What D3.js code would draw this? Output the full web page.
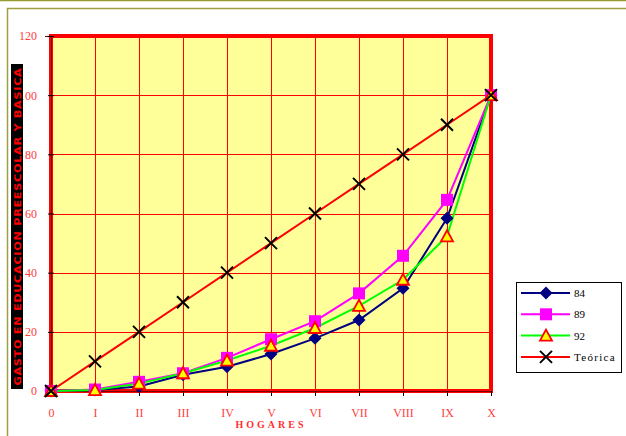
<!DOCTYPE html>
<html>
<head>
<meta charset="utf-8">
<script src="https://cdn.jsdelivr.net/npm/d3@7"></script>
<style>
  html, body { margin: 0; padding: 0; background: #fff; }
  svg { display: block; }
</style>
</head>
<body>
<svg id="chart" width="626" height="436"></svg>
<script>
// Household deciles and spending shares
const categories = ["0", "I", "II", "III", "IV", "V", "VI", "VII", "VIII", "IX", "X"];
const yTicks = [0, 20, 40, 60, 80, 100, 120];
const s84 = [0, 0.3, 1.5, 5.5, 8.2, 12.5, 17.8, 24, 34.7, 58.4, 100];
const s89 = [0, 0.5, 3.1, 6, 11.2, 17.5, 23.6, 33, 45.7, 64.6, 100];
const s92 = [0, 0.3, 2.5, 6, 10.3, 15.3, 21.3, 28.8, 37.6, 52.3, 100];
const teorica = [0, 10, 20, 30, 40, 50, 60, 70, 80, 90, 100];

const seriesList = [
  { name: "84", values: s84, line: "#000080", marker: "diamond" },
  { name: "89", values: s89, line: "#ff00ff", marker: "square" },
  { name: "92", values: s92, line: "#00ff00", marker: "triangle" },
  { name: "Teórica", values: teorica, line: "#ff0000", marker: "cross" }
];

const serif = "'Liberation Serif', 'Times New Roman', 'DejaVu Serif', serif";
const svg = d3.select("#chart");
const plotL = 51, plotR = 491, plotT = 36, plotB = 391;

const x = d3.scalePoint().domain(categories).range([plotL, plotR]);
const y = d3.scaleLinear().domain([0, 120]).range([plotB, plotT]);

// Page frame
svg.append("line").attr("x1", 0).attr("x2", 626).attr("y1", 0.5).attr("y2", 0.5)
  .attr("stroke", "#999933").attr("stroke-width", 1.5);
svg.append("path").attr("d", "M7.5,436 V8.5 H626")
  .attr("fill", "none").attr("stroke", "#a0a040").attr("stroke-width", 1.5);

// Plot background
svg.append("rect").attr("x", plotL).attr("y", plotT)
  .attr("width", plotR - plotL).attr("height", plotB - plotT)
  .attr("fill", "#ffff99");

// Grid
const grid = svg.append("g").attr("stroke", "#ff0000").attr("stroke-width", 1);
grid.selectAll(".hg").data(yTicks.slice(1, -1)).join("line")
  .attr("x1", plotL).attr("x2", plotR)
  .attr("y1", d => Math.round(y(d)) + 0.5).attr("y2", d => Math.round(y(d)) + 0.5);
grid.selectAll(".vg").data(categories.slice(1, -1)).join("line")
  .attr("y1", plotT).attr("y2", plotB)
  .attr("x1", d => Math.round(x(d)) + 0.5).attr("x2", d => Math.round(x(d)) + 0.5);

// Plot border
svg.append("rect").attr("x", plotL).attr("y", plotT)
  .attr("width", plotR - plotL).attr("height", plotB - plotT)
  .attr("fill", "none").attr("stroke", "#ff0000").attr("stroke-width", 4);

// Axes
const yAxis = d3.axisLeft(y).tickValues(yTicks).tickSize(6).tickPadding(8);
const gy = svg.append("g").attr("transform", `translate(${plotL},0)`).call(yAxis);
gy.attr("font-family", null);
gy.select(".domain").attr("stroke", "#800000").attr("stroke-width", 1);
gy.selectAll(".tick line").attr("stroke", "#000").attr("transform", "translate(3,0)");
gy.selectAll(".tick text").attr("fill", "#ff4040")
  .style("font-family", serif).style("font-size", "12px");

const xAxis = d3.axisBottom(x).tickSize(5).tickPadding(12);
const gx = svg.append("g").attr("transform", `translate(0,${plotB})`).call(xAxis);
gx.attr("font-family", null);
gx.select(".domain").attr("stroke", "#800000").attr("stroke-width", 1);
gx.selectAll(".tick line").attr("stroke", "#000");
gx.selectAll(".tick text").attr("fill", "#ff4040")
  .style("font-family", serif).style("font-size", "12px");

// Axis titles
svg.append("text").attr("x", 271).attr("y", 428).attr("text-anchor", "middle")
  .attr("fill", "#ff3030").style("font-family", serif)
  .style("font-size", "10px").style("font-weight", "bold").style("letter-spacing", "3px")
  .text("HOGARES");

svg.append("rect").attr("x", 11).attr("y", 64).attr("width", 12).attr("height", 325)
  .attr("fill", "#000");
svg.append("text")
  .attr("transform", "translate(21,226.5) rotate(-90)")
  .attr("text-anchor", "middle").attr("fill", "#ff0000")
  .style("font-family", "'DejaVu Sans', sans-serif").style("font-size", "9.5px")
  .style("font-weight", "bold").style("letter-spacing", "0.6px")
  .attr("textLength", 318).attr("lengthAdjust", "spacingAndGlyphs")
  .text("GASTO EN EDUCACION PREESCOLAR Y BASICA");

// Markers
function drawMarker(g, type, cx, cy) {
  if (type === "diamond") {
    g.append("path").attr("d", `M${cx},${cy - 6.5}L${cx + 6.5},${cy}L${cx},${cy + 6.5}L${cx - 6.5},${cy}Z`)
      .attr("fill", "#000080");
  } else if (type === "square") {
    g.append("rect").attr("x", cx - 6).attr("y", cy - 6).attr("width", 12).attr("height", 12)
      .attr("fill", "#ff00ff");
  } else if (type === "triangle") {
    g.append("path").attr("d", `M${cx},${cy - 6}L${cx + 6},${cy + 5}L${cx - 6},${cy + 5}Z`)
      .attr("fill", "#ffff00").attr("stroke", "#ff0000").attr("stroke-width", 1.8)
      .attr("stroke-linejoin", "miter");
  } else {
    g.append("path").attr("d", `M${cx - 6},${cy - 6}L${cx + 6},${cy + 6}M${cx + 6},${cy - 6}L${cx - 6},${cy + 6}`)
      .attr("stroke", "#000").attr("stroke-width", 2);
  }
}

const line = d3.line().x((d, i) => x(categories[i])).y(d => y(d));
seriesList.forEach(s => {
  svg.append("path").datum(s.values).attr("d", line)
    .attr("fill", "none").attr("stroke", s.line).attr("stroke-width", 2);
});
seriesList.forEach(s => {
  const g = svg.append("g");
  s.values.forEach((v, i) => drawMarker(g, s.marker, x(categories[i]), y(v)));
});

// Legend
const lg = svg.append("g");
lg.append("rect").attr("x", 516.5).attr("y", 282.5).attr("width", 105).attr("height", 90)
  .attr("fill", "#fff").attr("stroke", "#000").attr("stroke-width", 1);
seriesList.forEach((s, i) => {
  const cy = 293 + i * 21.3;
  lg.append("line").attr("x1", 521).attr("x2", 570).attr("y1", cy).attr("y2", cy)
    .attr("stroke", s.line).attr("stroke-width", 2);
  drawMarker(lg, s.marker, 546, cy);
  lg.append("text").attr("x", 574).attr("y", cy + 4).attr("fill", "#000")
    .style("font-family", serif).style("font-size", "11px")
    .style("letter-spacing", s.name === "Teórica" ? "1.3px" : "0px")
    .text(s.name);
});
</script>
</body>
</html>
